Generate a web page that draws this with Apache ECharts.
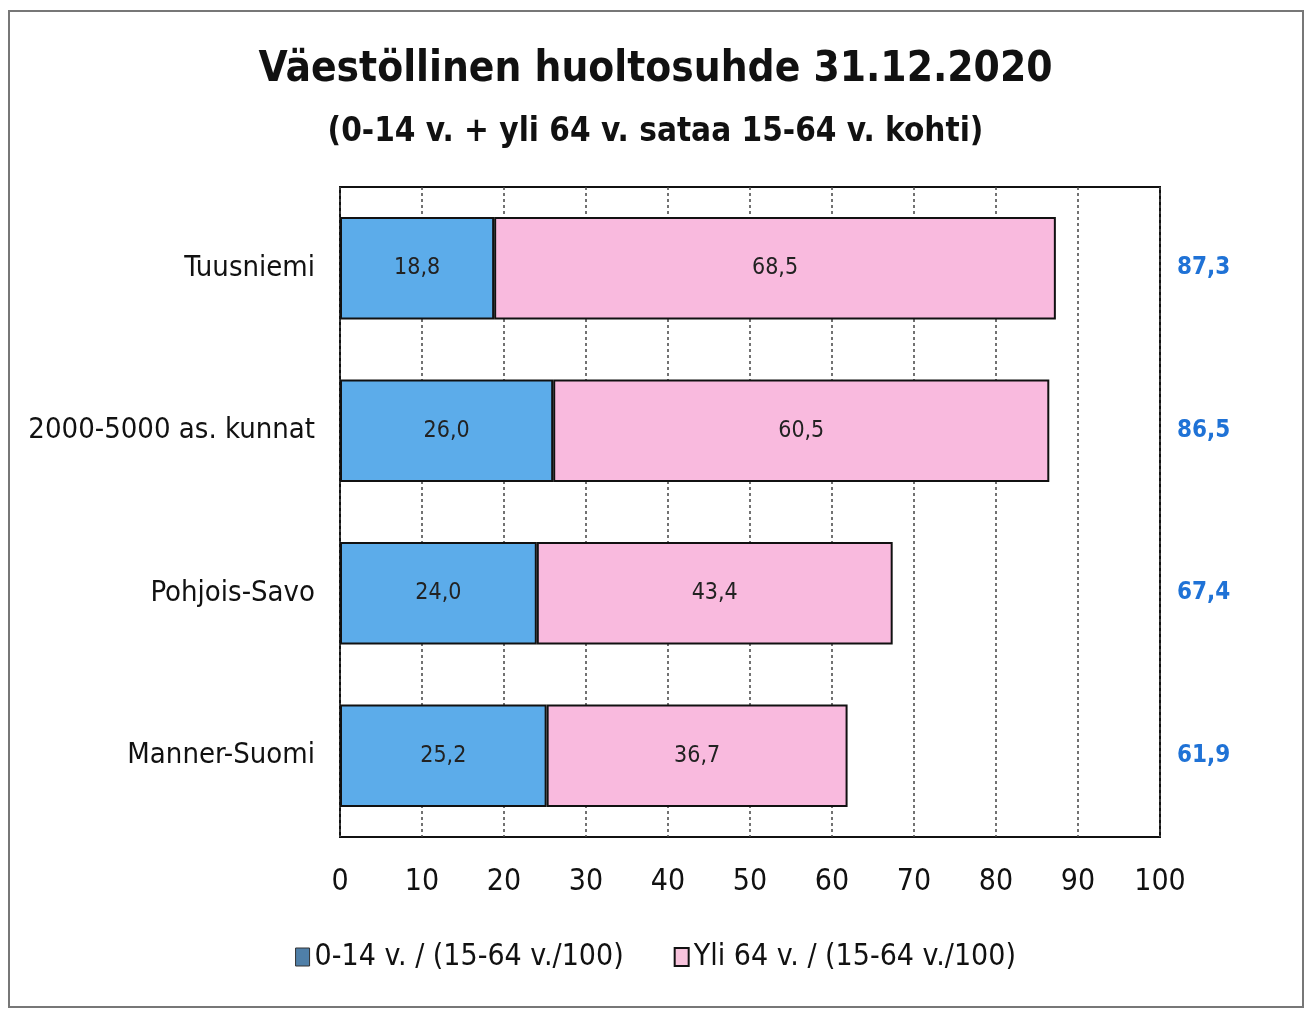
<!DOCTYPE html>
<html><head><meta charset="utf-8">
<script src="https://cdn.jsdelivr.net/npm/echarts@6/dist/echarts.min.js"></script>
<style>html,body{margin:0;padding:0;background:#fff}#c{width:1311px;height:1013px}
#frame{position:absolute;left:8px;top:10px;width:1296px;height:998px;border:2px solid #777;box-sizing:border-box;pointer-events:none}</style>
</head><body><div id="c"></div><div id="frame"></div>
<script>
const categories = ["Tuusniemi", "2000-5000 as. kunnat", "Pohjois-Savo", "Manner-Suomi"];
const young = [18.8, 26.0, 24.0, 25.2];
const old = [68.5, 60.5, 43.4, 36.7];
const totals = [87.3, 86.5, 67.4, 61.9];
const seriesNames = ["0-14 v. / (15-64 v./100)", "Yli 64 v. / (15-64 v./100)"];
const FONT = '"DejaVu Sans Condensed", "Liberation Sans Narrow", sans-serif';
const fmt = v => v.toFixed(1).replace('.', ',');
const chart = echarts.init(document.getElementById('c'));
chart.setOption({
  animation: false,
  textStyle: {fontFamily: FONT},
  title: [
    {text: 'Väestöllinen huoltosuhde 31.12.2020', left: 'center', top: 44,
     textStyle: {fontFamily: FONT, fontSize: 42, fontWeight: 'bold', color: '#111'}},
    {text: '(0-14 v. + yli 64 v. sataa 15-64 v. kohti)', left: 'center', top: 111,
     textStyle: {fontFamily: FONT, fontSize: 33, fontWeight: 'bold', color: '#111'}}
  ],
  legend: {
    bottom: 36, left: 'center', icon: 'rect', itemWidth: 14, itemHeight: 18, itemGap: 50,
    textStyle: {fontFamily: FONT, fontSize: 30, color: '#111'},
    data: [
      {name: seriesNames[0], itemStyle: {color: '#4f7fa8', borderColor: '#333', borderWidth: 1}},
      {name: seriesNames[1], itemStyle: {color: '#f7c3dc', borderColor: '#111', borderWidth: 2}}
    ]
  },
  grid: {left: 340, right: 151, top: 187, bottom: 176, containLabel: false, outerBoundsMode: 'none',
         show: true, borderColor: '#111', borderWidth: 2},
  xAxis: {
    type: 'value', min: 0, max: 100, interval: 10,
    axisLine: {show: false}, axisTick: {show: false},
    axisLabel: {fontFamily: FONT, fontSize: 30, color: '#111', margin: 30},
    splitLine: {show: true, lineStyle: {color: '#444', type: [3, 3], width: 1.5}}
  },
  yAxis: [
    {type: 'category', data: categories, inverse: true,
     axisLine: {show: false}, axisTick: {show: false},
     axisLabel: {fontFamily: FONT, fontSize: 29, color: '#111', margin: 25}},
    {type: 'category', data: totals.map(fmt), inverse: true, position: 'right',
     axisLine: {show: false}, axisTick: {show: false},
     axisLabel: {fontFamily: FONT, fontSize: 24, fontWeight: 'bold', color: '#1f72d6', margin: 17}}
  ],
  series: [
    {name: seriesNames[0], type: 'bar', stack: 's', data: young, barWidth: '63%',
     itemStyle: {color: '#5cacea', borderColor: '#111', borderWidth: 2},
     label: {show: true, position: 'inside', formatter: p => fmt(p.value),
             fontFamily: FONT, fontSize: 23, color: '#222'}},
    {name: seriesNames[1], type: 'bar', stack: 's', data: old, barWidth: '63%',
     itemStyle: {color: '#f9bade', borderColor: '#111', borderWidth: 2},
     label: {show: true, position: 'inside', formatter: p => fmt(p.value),
             fontFamily: FONT, fontSize: 23, color: '#222'}}
  ]
});
</script></body></html>
